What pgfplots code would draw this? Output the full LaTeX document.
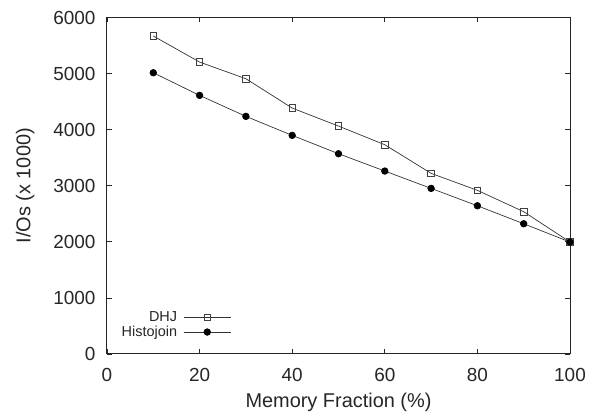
\documentclass[border=0pt]{standalone}
\usepackage{pgfplots}
\pgfplotsset{compat=1.18}
\usepackage{fontspec}
\setmainfont{Liberation Sans}
\begin{document}
\begin{tikzpicture}
\begin{axis}[
  scale only axis,
  width=463bp, height=336.5bp,
  xmin=0, xmax=100, ymin=0, ymax=6000,
  xtick={0,20,...,100},
  ytick={0,1000,...,6000},
  scaled y ticks=false,
  /pgf/number format/assume math mode=true,
  /pgf/number format/1000 sep={},
  tick label style={font=\fontsize{19}{22}\selectfont, text=black!85},
  xticklabel style={yshift=-11bp},
  yticklabel style={xshift=-8bp},
  label style={font=\fontsize{20}{23}\selectfont, text=black!85},
  xlabel={Memory Fraction (\%)},
  ylabel={I/Os (x 1000)},
  xlabel style={yshift=-4bp},
  ylabel style={yshift=12bp},
  major tick length=5bp,
  axis line style={line width=1pt, black!85},
  tick style={line width=0.8pt, black!85},
  legend style={draw=none, fill=none, font=\fontsize{14.5}{16}\selectfont,
    at={(0.275,0.035)}, anchor=south east, row sep=-1pt, text=black!85},
  legend cell align=right,
  legend plot pos=right,
  legend image code/.code={\path (0cm,0cm); \draw[mark repeat=2,mark phase=2,#1] plot coordinates {(0.15cm,0cm)(0.98cm,0cm)(1.81cm,0cm)};},
]
\addplot[black!80, line width=0.7pt, mark=square, mark size=3.3pt, mark options={black!75, line width=0.8pt}]
coordinates {(10,5670)(20,5205)(30,4908)(40,4385)(50,4064)(60,3731)(70,3221)(80,2918)(90,2537)(100,1996)};
\addlegendentry{DHJ}
\addplot[black!80, line width=0.7pt, mark=*, mark size=3.3pt, mark options={black, fill=black}]
coordinates {(10,5015)(20,4611)(30,4237)(40,3898)(50,3571)(60,3262)(70,2953)(80,2643)(90,2322)(100,1996)};
\addlegendentry{Histojoin}
\end{axis}
\path (current axis.south west) ++(-107bp,-63bp) rectangle ([shift={(27bp,17.5bp)}]current axis.north east);
\end{tikzpicture}
\end{document}
